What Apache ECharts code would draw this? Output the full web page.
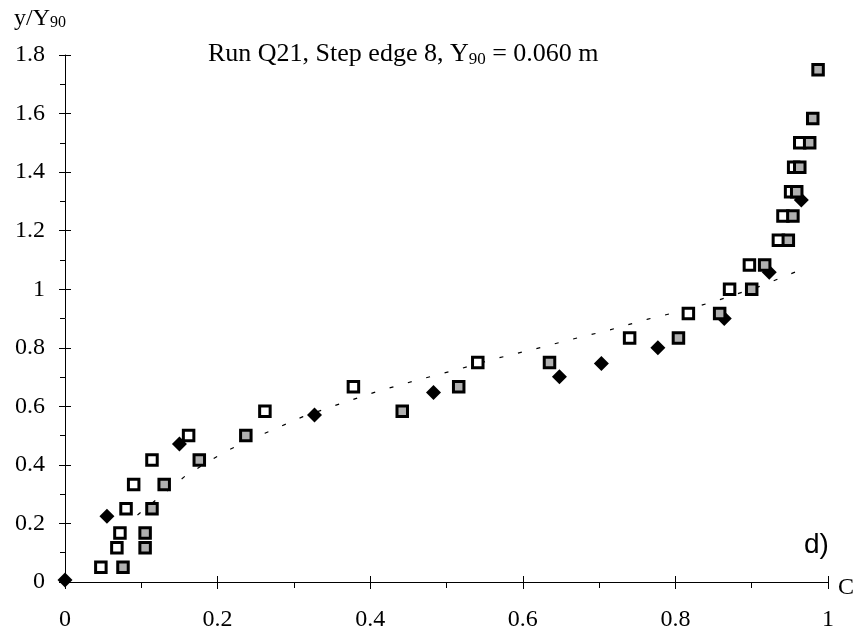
<!DOCTYPE html>
<html><head><meta charset="utf-8">
<script src="https://cdn.jsdelivr.net/npm/echarts@6/dist/echarts.min.js"></script>
<style>html,body{margin:0;padding:0;background:#fff}#c{width:862px;height:637px}</style>
</head><body><div id="c"></div>
<script>
// ---- data ----
const xTickLabels = ['0', '0.2', '0.4', '0.6', '0.8', '1'];
const yTickLabels = ['0', '0.2', '0.4', '0.6', '0.8', '1', '1.2', '1.4', '1.6', '1.8'];

// open squares
const openC = [0.047, 0.068, 0.072, 0.080, 0.090, 0.114, 0.162, 0.262, 0.378, 0.541, 0.740, 0.817, 0.871, 0.897, 0.935, 0.941, 0.951, 0.955, 0.963];
const openY = [0.050, 0.117, 0.167, 0.250, 0.333, 0.417, 0.500, 0.583, 0.667, 0.750, 0.833, 0.917, 1.000, 1.083, 1.167, 1.250, 1.333, 1.417, 1.500];

// grey-filled squares
const greyC = [0.076, 0.105, 0.105, 0.114, 0.130, 0.176, 0.237, 0.442, 0.516, 0.635, 0.804, 0.858, 0.900, 0.917, 0.948, 0.954, 0.959, 0.963, 0.976, 0.980, 0.987];
const greyY = [0.050, 0.117, 0.167, 0.250, 0.333, 0.417, 0.500, 0.583, 0.667, 0.750, 0.833, 0.917, 1.000, 1.083, 1.167, 1.250, 1.333, 1.417, 1.500, 1.583, 1.750];

// black diamonds
const diamC = [0.000, 0.055, 0.150, 0.327, 0.483, 0.648, 0.703, 0.777, 0.864, 0.923, 0.965];
const diamY = [0.007, 0.225, 0.471, 0.570, 0.647, 0.701, 0.746, 0.800, 0.900, 1.058, 1.305];

// dotted curve
const curveC = [0.095, 0.159, 0.211, 0.262, 0.312, 0.362, 0.412, 0.462, 0.515, 0.563, 0.616, 0.666, 0.714, 0.764, 0.815, 0.865, 0.913, 0.961];
const curveY = [0.229, 0.365, 0.447, 0.508, 0.565, 0.610, 0.653, 0.690, 0.726, 0.762, 0.796, 0.830, 0.861, 0.898, 0.930, 0.970, 1.012, 1.063];

const zip = (a, b) => a.map((v, i) => [v, b[i]]);
const SERIF = '"Liberation Serif", "DejaVu Serif", serif';

const chart = echarts.init(document.getElementById('c'), null, {renderer: 'canvas'});
const lbl = (labels, step) => v => {
  const i = Math.round(v / step);
  return labels[i] !== undefined ? labels[i] : '';
};
const blk = {color: '#000', width: 1};
const gridBox = {left: 65, right: 34, top: 55, bottom: 55, containLabel: false};

chart.setOption({
  animation: false,
  backgroundColor: '#fff',
  title: [
    {
      text: '{a|Run Q21, Step edge 8, Y}{s|90}{a| = 0.060 m}',
      left: 203, top: 36,
      textStyle: {
        rich: {
          a: {fontFamily: SERIF, fontSize: 26, fontWeight: 'normal', color: '#000'},
          s: {fontFamily: SERIF, fontSize: 17, fontWeight: 'normal', color: '#000', padding: [10, 0, 0, 0]}
        }
      }
    },
    {
      text: '{a|y/Y}{s|90}',
      left: 9, top: 1,
      textStyle: {
        rich: {
          a: {fontFamily: SERIF, fontSize: 24, fontWeight: 'normal', color: '#000'},
          s: {fontFamily: SERIF, fontSize: 16, fontWeight: 'normal', color: '#000', padding: [9, 0, 0, 0]}
        }
      }
    }
  ],
  graphic: [
    {type: 'text', left: 804, top: 531, style: {text: 'd)', font: '28px "Liberation Sans", Arial, sans-serif', fill: '#000'}}
  ],
  grid: [gridBox, Object.assign({}, gridBox)],
  xAxis: [
    {
      type: 'value', gridIndex: 0, min: 0, max: 1, interval: 0.2, position: 'bottom',
      axisLine: {show: true, onZero: false, lineStyle: blk},
      axisTick: {show: true, length: 7, lineStyle: blk},
      minorTick: {show: true, splitNumber: 2, length: 6, lineStyle: blk},
      splitLine: {show: false}, minorSplitLine: {show: false},
      axisLabel: {formatter: lbl(xTickLabels, 0.2), fontFamily: SERIF, fontSize: 24, color: '#000', margin: 26, showMaxLabel: true, showMinLabel: true},
      name: 'C', nameLocation: 'end', nameGap: 10,
      nameTextStyle: {fontFamily: SERIF, fontSize: 24, color: '#000', verticalAlign: 'top', lineHeight: 12}
    },
    {
      type: 'value', gridIndex: 1, min: 0, max: 1, interval: 0.2, position: 'bottom',
      axisLine: {show: false, onZero: false},
      axisTick: {show: true, inside: true, length: 6, lineStyle: blk},
      axisLabel: {show: false}, splitLine: {show: false}
    }
  ],
  yAxis: [
    {
      type: 'value', gridIndex: 0, min: 0, max: 1.8, interval: 0.2, position: 'left',
      axisLine: {show: true, onZero: false, lineStyle: blk},
      axisTick: {show: true, length: 6, lineStyle: blk},
      minorTick: {show: true, splitNumber: 2, length: 5, lineStyle: blk},
      splitLine: {show: false}, minorSplitLine: {show: false},
      axisLabel: {formatter: lbl(yTickLabels, 0.2), fontFamily: SERIF, fontSize: 24, color: '#000', margin: 20, showMaxLabel: true}
    },
    {
      type: 'value', gridIndex: 1, min: 0, max: 1.8, interval: 0.2, position: 'left',
      axisLine: {show: false, onZero: false},
      axisTick: {show: true, inside: true, length: 6, lineStyle: blk},
      axisLabel: {show: false}, splitLine: {show: false}
    }
  ],
  series: [
    {
      type: 'line', name: 'curve', data: zip(curveC, curveY), xAxisIndex: 0, yAxisIndex: 0,
      showSymbol: false, symbol: 'none', smooth: false, z: 1,
      lineStyle: {color: '#000', width: 1.2, type: [4, 15]}
    },
    {
      type: 'scatter', name: 'diamond', data: zip(diamC, diamY), xAxisIndex: 0, yAxisIndex: 0, z: 2,
      symbol: 'diamond', symbolSize: 15,
      itemStyle: {color: '#000', opacity: 1}
    },
    {
      type: 'scatter', name: 'open', data: zip(openC, openY), xAxisIndex: 0, yAxisIndex: 0, z: 3,
      symbol: 'rect', symbolSize: 10.5,
      itemStyle: {color: '#fff', borderColor: '#000', borderWidth: 3, opacity: 1}
    },
    {
      type: 'scatter', name: 'grey', data: zip(greyC, greyY), xAxisIndex: 0, yAxisIndex: 0, z: 4,
      symbol: 'rect', symbolSize: 10.5,
      itemStyle: {color: '#b0b0b0', borderColor: '#000', borderWidth: 3, opacity: 1}
    }
  ]
});
</script>
</body></html>
